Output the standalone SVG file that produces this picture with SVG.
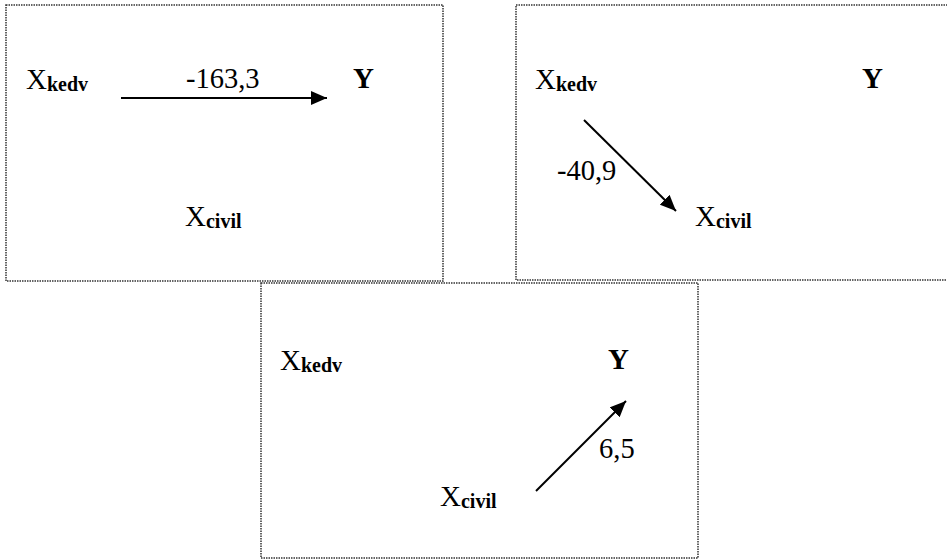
<svg xmlns="http://www.w3.org/2000/svg" width="947" height="560" viewBox="0 0 947 560">
<style>
.box{fill:none;stroke:#333;stroke-width:1.5;stroke-dasharray:1.5 1}
.v{font-family:"Liberation Serif","Times New Roman",serif;font-size:29px;fill:#000}
.sub{font-weight:bold;font-size:20px}
.b{font-weight:bold}
.lbl{font-family:"Liberation Serif","Times New Roman",serif;font-size:28.5px;fill:#000}
.c{stroke:#000;stroke-width:2;fill:none;marker-end:url(#ah)}
</style>
<defs>
<marker id="ah" markerWidth="8" markerHeight="7" refX="8" refY="3.5" orient="auto" markerUnits="strokeWidth">
<path d="M0,0 L8,3.5 L0,7 Z" fill="#000"/>
</marker>
</defs>
<rect class="box" x="6" y="5" width="437" height="276"/>
<rect class="box" x="516" y="5" width="440" height="275"/>
<rect class="box" x="261" y="283" width="437" height="275"/>

<g id="p1-xkedv"><text class="v" x="26" y="89">X<tspan class="sub" dy="2">kedv</tspan></text></g>
<g id="p1-y"><text class="v b" x="353" y="88">Y</text></g>
<g id="p1-xcivil"><text class="v" x="185" y="226">X<tspan class="sub" dy="2">civil</tspan></text></g>

<g id="p2-xkedv"><text class="v" x="535" y="89">X<tspan class="sub" dy="2">kedv</tspan></text></g>
<g id="p2-y"><text class="v b" x="862" y="88">Y</text></g>
<g id="p2-xcivil"><text class="v" x="695" y="226">X<tspan class="sub" dy="2">civil</tspan></text></g>

<g id="p3-xkedv"><text class="v" x="280" y="370">X<tspan class="sub" dy="2">kedv</tspan></text></g>
<g id="p3-y"><text class="v b" x="608" y="369">Y</text></g>
<g id="p3-xcivil"><text class="v" x="440" y="506">X<tspan class="sub" dy="2">civil</tspan></text></g>

<g id="connectors">
<line class="c" x1="121" y1="98" x2="327" y2="98"/>
<line class="c" x1="584" y1="120" x2="676" y2="211"/>
<line class="c" x1="536" y1="491" x2="626" y2="401"/>
<text class="lbl" x="186" y="88">-163,3</text>
<text class="lbl" x="557" y="180">-40,9</text>
<text class="lbl" x="599" y="458">6,5</text>
</g>
</svg>
